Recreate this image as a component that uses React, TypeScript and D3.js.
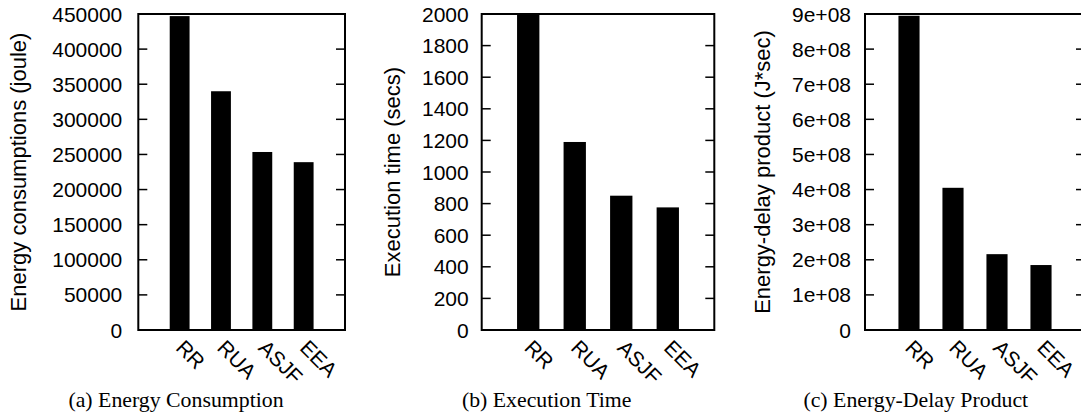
import React from "react";
import * as d3 from "d3";

const categories = ["RR", "RUA", "ASJF", "EEA"];
const energyValues = [447000, 340000, 253500, 239000];
const timeValues = [2003, 1190, 850, 776];
const edpValues = [8.95e8, 4.05e8, 2.16e8, 1.85e8];

const energyTicks = [0, 50000, 100000, 150000, 200000, 250000, 300000, 350000, 400000, 450000];
const energyTickLabels = ["0", "50000", "100000", "150000", "200000", "250000", "300000", "350000", "400000", "450000"];
const timeTicks = [0, 200, 400, 600, 800, 1000, 1200, 1400, 1600, 1800, 2000];
const timeTickLabels = ["0", "200", "400", "600", "800", "1000", "1200", "1400", "1600", "1800", "2000"];
const edpTicks = [0, 1e8, 2e8, 3e8, 4e8, 5e8, 6e8, 7e8, 8e8, 9e8];
const edpTickLabels = ["0", "1e+08", "2e+08", "3e+08", "4e+08", "5e+08", "6e+08", "7e+08", "8e+08", "9e+08"];

const yTitles = ["Energy consumptions (joule)", "Execution time (secs)", "Energy-delay product (J*sec)"];
const captions = ["(a) Energy Consumption", "(b) Execution Time", "(c) Energy-Delay Product"];

const SANS = "'Liberation Sans', Arial, Helvetica, sans-serif";
const SERIF = "'Liberation Serif', 'Times New Roman', serif";

type PanelProps = {
  values: number[];
  ticks: number[];
  tickLabels: string[];
  yMax: number;
  left: number;
  right: number;
  labelGap: number;
  titleX: number;
  title: string;
  caption: string;
  captionX: number;
};

const TOP = 14;
const BOTTOM = 330;

function Panel(p: PanelProps) {
  const x = d3.scaleLinear().domain([-1, 4]).range([p.left, p.right]);
  const y = d3.scaleLinear().domain([0, p.yMax]).range([BOTTOM, TOP]).clamp(true);
  const unit = x(1) - x(0);
  const bw = unit * 0.48;
  const tickLen = 9;
  return (
    <g>
      {p.values.map((v, i) => (
        <rect key={i} x={x(i) - bw / 2} y={y(v)} width={bw} height={BOTTOM - y(v)} fill="#000" />
      ))}
      {p.ticks.map((t, i) => (
        <g key={i}>
          {i > 0 && i < p.ticks.length - 1 && (
            <>
              <line x1={p.left} x2={p.left + tickLen} y1={y(t)} y2={y(t)} stroke="#000" strokeWidth={1.5} />
              <line x1={p.right - tickLen} x2={p.right} y1={y(t)} y2={y(t)} stroke="#000" strokeWidth={1.5} />
            </>
          )}
          <text x={p.left - p.labelGap} y={y(t)} dy="0.36em" textAnchor="end" fontFamily={SANS} fontSize={21} fill="#000">
            {p.tickLabels[i]}
          </text>
        </g>
      ))}
      <rect x={p.left} y={TOP} width={p.right - p.left} height={BOTTOM - TOP} fill="none" stroke="#000" strokeWidth={2} />
      {categories.map((c, i) => (
        <text
          key={c}
          transform={`translate(${x(i) - 5},${BOTTOM + 19}) rotate(45)`}
          fontFamily={SANS}
          fontSize={21}
          fill="#000"
        >
          {c}
        </text>
      ))}
      <text
        transform={`translate(${p.titleX},${(TOP + BOTTOM) / 2}) rotate(-90)`}
        textAnchor="middle"
        dy="0.36em"
        fontFamily={SANS}
        fontSize={22}
        fill="#000"
      >
        {p.title}
      </text>
      <text x={p.captionX} y={407} textAnchor="middle" fontFamily={SERIF} fontSize={21.8} fill="#000">
        {p.caption}
      </text>
    </g>
  );
}

export default function App() {
  return (
    <div style={{ position: "absolute", left: 0, top: 0 }}>
      <svg width={1081} height={416} style={{ display: "block", background: "#fff" }}>
        <rect x={0} y={0} width={1081} height={416} fill="#fff" />
        <Panel
          values={energyValues}
          ticks={energyTicks}
          tickLabels={energyTickLabels}
          yMax={450000}
          left={138.3}
          right={345}
          labelGap={16}
          titleX={18}
          title={yTitles[0]}
          caption={captions[0]}
          captionX={176}
        />
        <Panel
          values={timeValues}
          ticks={timeTicks}
          tickLabels={timeTickLabels}
          yMax={2000}
          left={481.7}
          right={714.3}
          labelGap={13}
          titleX={391.7}
          title={yTitles[1]}
          caption={captions[1]}
          captionX={546.7}
        />
        <Panel
          values={edpValues}
          ticks={edpTicks}
          tickLabels={edpTickLabels}
          yMax={9e8}
          left={865}
          right={1085}
          labelGap={14}
          titleX={761.7}
          title={yTitles[2]}
          caption={captions[2]}
          captionX={915.8}
        />
      </svg>
    </div>
  );
}
